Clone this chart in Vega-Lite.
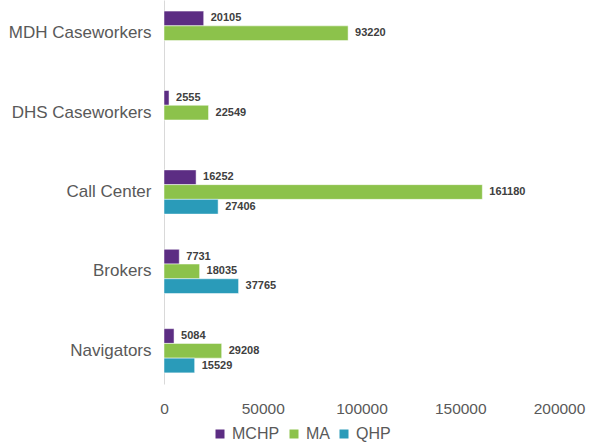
{
  "$schema": "https://vega.github.io/schema/vega-lite/v6.json",
  "autosize": "none",
  "width": 395,
  "height": 384,
  "padding": {"left": 164, "top": 0, "right": 31, "bottom": 64},
  "background": "white",
  "config": {
    "font": "Liberation Sans",
    "view": {"stroke": null}
  },
  "data": {
    "values": [
      {"source": "MDH Caseworkers", "program": "MCHP", "value": 20105},
      {"source": "MDH Caseworkers", "program": "MA", "value": 93220},
      {"source": "DHS Caseworkers", "program": "MCHP", "value": 2555},
      {"source": "DHS Caseworkers", "program": "MA", "value": 22549},
      {"source": "Call Center", "program": "MCHP", "value": 16252},
      {"source": "Call Center", "program": "MA", "value": 161180},
      {"source": "Call Center", "program": "QHP", "value": 27406},
      {"source": "Brokers", "program": "MCHP", "value": 7731},
      {"source": "Brokers", "program": "MA", "value": 18035},
      {"source": "Brokers", "program": "QHP", "value": 37765},
      {"source": "Navigators", "program": "MCHP", "value": 5084},
      {"source": "Navigators", "program": "MA", "value": 29208},
      {"source": "Navigators", "program": "QHP", "value": 15529}
    ]
  },
  "encoding": {
    "y": {
      "field": "source",
      "type": "nominal",
      "sort": ["MDH Caseworkers", "DHS Caseworkers", "Call Center", "Brokers", "Navigators"],
      "scale": {"paddingInner": 0.443, "paddingOuter": 0.14},
      "axis": {
        "title": null,
        "ticks": false,
        "labelPadding": 13,
        "labelFontSize": 17,
        "labelColor": "#595959",
        "domainColor": "#d9d9d9",
        "domainWidth": 1
      }
    },
    "yOffset": {
      "field": "program",
      "type": "nominal",
      "sort": ["MCHP", "MA", "QHP"],
      "scale": {"domain": ["MCHP", "MA", "QHP"], "paddingInner": 0}
    },
    "x": {
      "field": "value",
      "type": "quantitative",
      "scale": {"domain": [0, 200000], "nice": false},
      "axis": {
        "title": null,
        "values": [0, 50000, 100000, 150000, 200000],
        "format": "d",
        "grid": false,
        "domain": false,
        "ticks": false,
        "labelFlush": false,
        "labelOverlap": false,
        "labelBound": false,
        "labelPadding": 17,
        "labelFontSize": 15.5,
        "labelColor": "#595959"
      }
    }
  },
  "layer": [
    {
      "mark": {"type": "bar", "stroke": "white", "strokeWidth": 0.5},
      "encoding": {
        "color": {
          "field": "program",
          "type": "nominal",
          "sort": ["MCHP", "MA", "QHP"],
          "scale": {"domain": ["MCHP", "MA", "QHP"], "range": ["#5c2d83", "#8cc24b", "#2a9bb9"]},
          "legend": {
            "title": null,
            "orient": "none",
            "direction": "horizontal",
            "legendX": 48,
            "legendY": 426,
            "symbolType": "square",
            "symbolSize": 81,
            "symbolStrokeWidth": 0,
            "symbolOpacity": 1,
            "labelFontSize": 16,
            "labelColor": "#595959",
            "labelOffset": 4,
            "columnPadding": 6
          }
        }
      }
    },
    {
      "mark": {"type": "text", "align": "left", "baseline": "middle", "dx": 7, "fontSize": 11, "fontWeight": "bold", "color": "#404040"},
      "encoding": {
        "text": {"field": "value", "type": "quantitative", "format": "d"}
      }
    }
  ]
}
